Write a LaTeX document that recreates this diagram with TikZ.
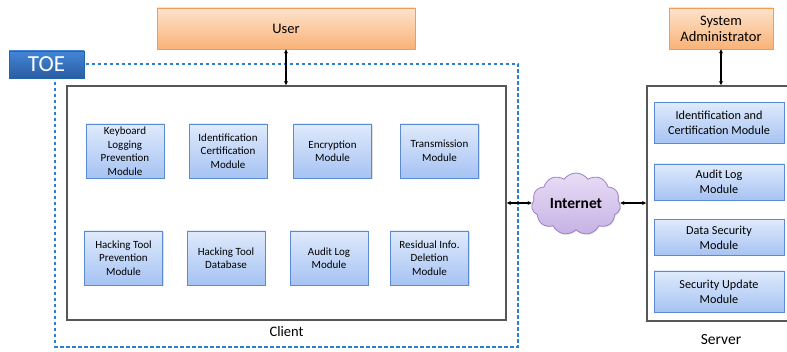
\documentclass[tikz,border=0pt]{standalone}
\usepackage{fontspec}
\setmainfont{Carlito}
\usepackage{tikz}
\usetikzlibrary{positioning,shapes.symbols,arrows.meta,shadows}
\definecolor{modtop}{HTML}{DFEAFC}
\definecolor{modbot}{HTML}{A6C3F3}
\definecolor{modline}{HTML}{5A8AD0}
\definecolor{usrtop}{HTML}{FDE3CC}
\definecolor{usrbot}{HTML}{F9B277}
\definecolor{usrline}{HTML}{F59A4E}
\definecolor{toetop}{HTML}{4485D6}
\definecolor{toebot}{HTML}{2A5DA3}
\definecolor{toeline}{HTML}{2B7FD0}
\definecolor{cloudtop}{HTML}{E8DDF6}
\definecolor{cloudbot}{HTML}{C7B2E4}
\definecolor{cloudline}{HTML}{9A80C6}
\definecolor{boxline}{HTML}{575757}

\begin{document}
\begin{tikzpicture}[x=1pt,y=-1pt,
    module/.style={draw=modline,line width=0.8pt,top color=modtop,bottom color=modbot,
      align=center,inner sep=1pt,minimum width=78pt,minimum height=54pt,
      font=\fontsize{11}{13.5}\selectfont,
      drop shadow={shadow xshift=1pt,shadow yshift=-1pt,opacity=0.25}},
    smodule/.style={module,minimum width=130pt,minimum height=38pt,
      font=\fontsize{12.2}{15}\selectfont},
    actor/.style={draw=usrline,line width=0.8pt,top color=usrtop,bottom color=usrbot,
      align=center,inner sep=1pt,minimum height=41pt,font=\fontsize{14.5}{16}\selectfont,
      drop shadow={shadow xshift=1pt,shadow yshift=-1pt,opacity=0.2}},
    bigbox/.style={draw=boxline,line width=1.8pt,fill=white,inner sep=0pt},
    link/.style={line width=1.2pt,{Stealth[length=4pt,width=4pt]}-{Stealth[length=4pt,width=4pt]}}]
  \useasboundingbox (0,0) rectangle (787,352);
  \clip (0,0) rectangle (787,352);

  % TOE frame
  \draw[toeline,line width=1.2pt,dash pattern=on 3.5pt off 2.5pt] (55,64) rectangle (518,347);
  \node[draw=toeline!80!black,line width=0.6pt,top color=toetop,bottom color=toebot,text=white,
    minimum width=75pt,minimum height=27pt,inner sep=0pt,font=\fontsize{23}{23}\selectfont,
    drop shadow={shadow xshift=1pt,shadow yshift=-1pt,opacity=0.2}](toe) at (46.5,64.5) {TOE};

  % actors
  \node[actor,minimum width=258pt](user) at (286,28.5) {User};
  \node[actor,minimum width=104pt](admin) at (721,28.5) {System\\Administrator};

  % client
  \node[bigbox,minimum width=439pt,minimum height=234pt](client) at (286.5,203) {};
  \node[inner sep=0pt,font=\fontsize{14.5}{16}\selectfont,below=5pt of client](clientlbl) {Client};

  \node[module](kbd) at (125,151) {Keyboard\\Logging\\Prevention\\Module};
  \node[module](idcert) at (228,151) {Identification\\Certification\\Module};
  \node[module](encrypt) at (332.5,151) {Encryption\\Module};
  \node[module](trans) at (439.5,151) {Transmission\\Module};
  \node[module](hackprev) at (123.5,258) {Hacking Tool\\Prevention\\Module};
  \node[module](hackdb) at (226,258) {Hacking Tool\\Database};
  \node[module](auditc) at (329,258) {Audit Log\\Module};
  \node[module](residual) at (429.5,258) {Residual Info.\\Deletion\\Module};

  % server
  \node[bigbox,minimum width=153pt,minimum height=235pt](server) at (723.5,203.5) {};
  \node[inner sep=0pt,font=\fontsize{15.5}{16}\selectfont,below=12pt of server.south -| admin](serverlbl) {Server};

  \node[smodule,minimum height=41pt](sidcert) at (719,123) {Identification and\\Certification Module};
  \node[smodule,minimum height=36pt](saudit) at (719,182) {Audit Log\\Module};
  \node[smodule,minimum height=36pt](sdata) at (719,237.5) {Data Security\\Module};
  \node[smodule,minimum height=41pt](supdate) at (719,291.5) {Security Update\\Module};

  % internet
  \node[cloud,cloud puffs=11,cloud puff arc=110,cloud ignores aspect,draw=cloudline,line width=0.8pt,
    top color=cloudtop,bottom color=cloudbot,minimum width=89pt,minimum height=62pt,inner sep=0pt,
    font=\fontsize{15.5}{16}\selectfont\bfseries,
    drop shadow={shadow xshift=1pt,shadow yshift=-1pt,opacity=0.2}](internet) at (576,204) {Internet};

  % links
  \draw[link] (user.south) -- (user.south |- client.north);
  \draw[link] (admin.south) -- (admin.south |- server.north);
  \draw[link] (client.east |- 0,203) -- (internet.west |- 0,203);
  \draw[link] (internet.east |- 0,203) -- (server.west |- 0,203);
\end{tikzpicture}
\end{document}
